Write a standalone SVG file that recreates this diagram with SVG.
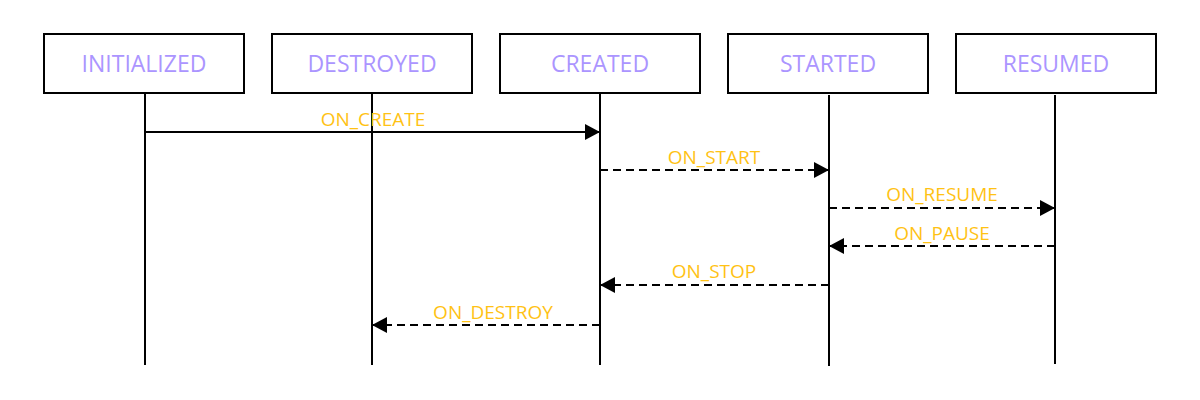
<svg xmlns="http://www.w3.org/2000/svg" width="1200" height="400" viewBox="0 0 1200 400">
<style>
.box{fill:#fff;stroke:#000;stroke-width:2}
.life{stroke:#000;stroke-width:2;fill:none}
.name{font-family:"Open Sans",sans-serif;font-size:23px;fill:#ab95ff;text-anchor:middle}
.msg{stroke:#000;stroke-width:2;fill:none}
.dash{stroke-dasharray:8 5}
.lbl{font-family:"Open Sans",sans-serif;font-size:19px;fill:#ffc214;text-anchor:middle}
</style>
<defs>
<marker id="ah" markerWidth="15" markerHeight="16" viewBox="0 0 15 16" refX="15" refY="8" orient="auto" markerUnits="userSpaceOnUse">
<path d="M0,0 L15,8 L0,16 Z" fill="#000"/>
</marker>
</defs>
<g id="node-initialized"><rect class="box" x="44" y="34" width="200" height="59"/><text class="name" x="144" y="72">INITIALIZED</text><line class="life" x1="145" y1="93" x2="145" y2="365"/></g>
<g id="node-destroyed"><rect class="box" x="272" y="34" width="200" height="59"/><text class="name" x="372" y="72">DESTROYED</text><line class="life" x1="372" y1="93" x2="372" y2="365"/></g>
<g id="node-created"><rect class="box" x="500" y="34" width="200" height="59"/><text class="name" x="600" y="72">CREATED</text><line class="life" x1="600" y1="93" x2="600" y2="365"/></g>
<g id="node-started"><rect class="box" x="728" y="34" width="200" height="59"/><text class="name" x="828" y="72">STARTED</text><line class="life" x1="829" y1="95" x2="829" y2="366"/></g>
<g id="node-resumed"><rect class="box" x="956" y="34" width="200" height="59"/><text class="name" x="1056" y="72">RESUMED</text><line class="life" x1="1055" y1="95" x2="1055" y2="364"/></g>
<g id="connectors">
<line class="msg" x1="145" y1="132" x2="600" y2="132" marker-end="url(#ah)"/>
<text class="lbl" x="373" y="126">ON_CREATE</text>
<line class="msg dash" x1="600" y1="170" x2="829" y2="170" marker-end="url(#ah)"/>
<text class="lbl" x="714" y="164">ON_START</text>
<line class="msg dash" x1="829" y1="208" x2="1055" y2="208" marker-end="url(#ah)"/>
<text class="lbl" x="942" y="201">ON_RESUME</text>
<line class="msg dash" x1="1055" y1="246" x2="829" y2="246" marker-end="url(#ah)"/>
<text class="lbl" x="942" y="240">ON_PAUSE</text>
<line class="msg dash" x1="829" y1="285" x2="600" y2="285" marker-end="url(#ah)"/>
<text class="lbl" x="714" y="278">ON_STOP</text>
<line class="msg dash" x1="600" y1="325" x2="372" y2="325" marker-end="url(#ah)"/>
<text class="lbl" x="493" y="319">ON_DESTROY</text>
</g>
</svg>
